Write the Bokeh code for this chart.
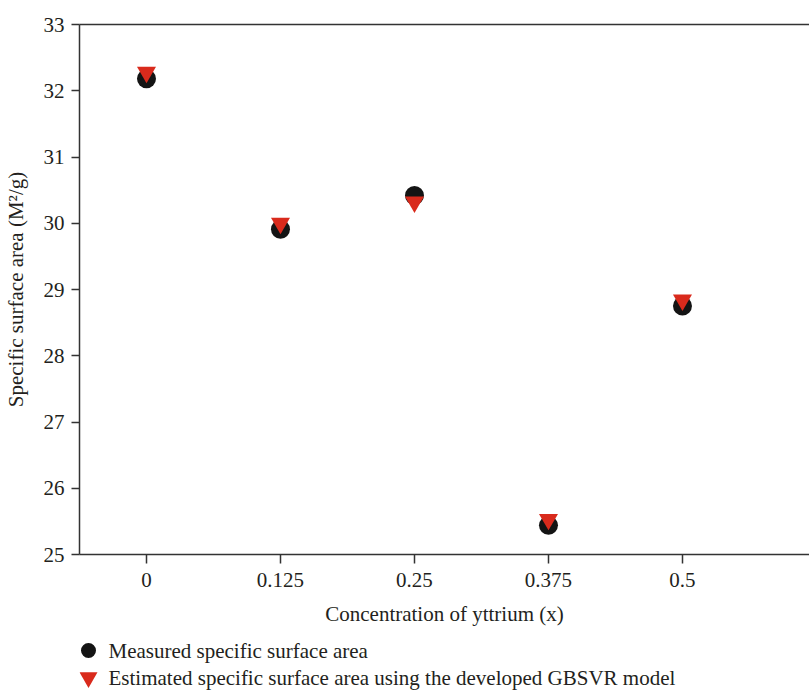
from bokeh.plotting import figure
from bokeh.models import Range1d, FixedTicker, LinearAxis
from bokeh.core.properties import value
from bokeh.layouts import column
from bokeh.embed import file_html
from bokeh.resources import INLINE

# ---- data ----
concentration = [0, 0.125, 0.25, 0.375, 0.5]
measured = [32.18, 29.91, 30.42, 25.44, 28.75]
estimated = [32.28, 30.00, 30.32, 25.53, 28.84]
x_tick_labels = ["0", "0.125", "0.25", "0.375", "0.5"]
y_ticks = [25, 26, 27, 28, 29, 30, 31, 32, 33]
series_names = ["Measured specific surface area",
                "Estimated specific surface area using the developed GBSVR model"]

FONT = "Liberation Serif"
FS = "21px"
TXT = "#231f20"
AX = "#333333"
BLACK = "#141414"
RED = "#d92a1c"
LEFT = 79
W = 809

p = figure(width=W, height=633, output_backend="svg", toolbar_location=None,
           x_range=Range1d(-0.0625, 0.6185), y_range=Range1d(25, 33),
           min_border_left=LEFT, min_border_right=0, min_border_top=24,
           min_border_bottom=79)
p.outline_line_color = None
p.xgrid.visible = False
p.ygrid.visible = False
p.background_fill_color = "white"
p.border_fill_color = "white"

p.scatter(concentration, measured, marker="circle", size=19,
          fill_color=BLACK, line_color=None)
p.scatter(concentration, estimated, marker="inverted_triangle", size=19,
          fill_color=RED, line_color=None)

xa = p.xaxis[0]
xa.ticker = FixedTicker(ticks=concentration)
xa.major_label_overrides = {c: l for c, l in zip(concentration, x_tick_labels)}
ya = p.yaxis[0]
ya.ticker = FixedTicker(ticks=y_ticks)

for ax in (xa, ya):
    ax.axis_line_color = AX
    ax.axis_line_width = 1.5
    ax.major_tick_line_color = AX
    ax.major_tick_line_width = 1.5
    ax.major_tick_in = 0
    ax.minor_tick_line_color = None
    ax.major_label_text_font = FONT
    ax.major_label_text_font_size = FS
    ax.major_label_text_color = TXT
    ax.axis_label_text_font = FONT
    ax.axis_label_text_font_size = FS
    ax.axis_label_text_font_style = "normal"
    ax.axis_label_text_color = TXT

xa.major_tick_out = 9
xa.major_label_standoff = 9
xa.axis_label = "Concentration of yttrium (x)"
xa.axis_label_standoff = 12
ya.major_tick_out = 8
ya.major_label_standoff = 7
ya.axis_label = "Specific surface area (M\u00b2/g)"
ya.axis_label_standoff = 13

top = LinearAxis(ticker=FixedTicker(ticks=[]), major_tick_out=0, major_tick_in=0,
                 minor_tick_line_color=None, major_label_text_font_size="0px",
                 axis_line_color=AX, axis_line_width=1.5)
p.add_layout(top, "above")

# ---- legend strip below the plot (screen-pixel units) ----
LH = 691 - 633
ROW0, PITCH = 17, 27
row_y = [ROW0 + i * PITCH for i in range(len(series_names))]
lf = figure(width=W, height=LH, output_backend="svg", toolbar_location=None,
            x_range=Range1d(LEFT, W), y_range=Range1d(LH, 0),
            x_axis_location=None, y_axis_location=None,
            min_border_left=LEFT, min_border_right=0, min_border_top=0,
            min_border_bottom=0)
lf.outline_line_color = None
lf.xgrid.visible = False
lf.ygrid.visible = False
lf.border_fill_color = "white"
lf.background_fill_color = "white"

lf.scatter([88], [row_y[0]], marker="circle", size=15, fill_color=BLACK, line_color=None)
lf.scatter([88], [row_y[1]], marker="inverted_triangle", size=18, fill_color=RED, line_color=None)
lf.text([108] * len(series_names), row_y, text=series_names,
        text_font=value(FONT), text_font_size=value(FS), text_color=TXT,
        text_baseline="middle", text_align="left")

layout = column(p, lf, spacing=0)
open("out.html", "w").write(file_html(layout, INLINE))
